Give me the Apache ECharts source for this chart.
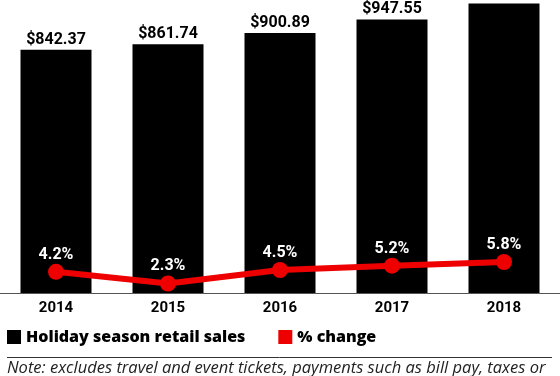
<!DOCTYPE html>
<html>
<head>
<meta charset="utf-8">
<script src="https://cdn.jsdelivr.net/npm/echarts@6/dist/echarts.min.js"></script>
<style>html,body{margin:0;padding:0;background:#fff}#c{width:560px;height:376px}</style>
</head>
<body>
<div id="c"></div>
<script>
var categories = ['2014', '2015', '2016', '2017', '2018'];
var salesValues = [842.37, 861.74, 900.89, 947.55, 1002.51];
var salesLabels = ['$842.37', '$861.74', '$900.89', '$947.55', ''];
var changeValues = [4.2, 2.3, 4.5, 5.2, 5.8];
var changeLabels = ['4.2%', '2.3%', '4.5%', '5.2%', '5.8%'];
var noteText = 'Note: excludes travel and event tickets, payments such as bill pay, taxes or';

var FONT = 'Roboto, "Liberation Sans", sans-serif';
var WIDE = '"Open Sans", Roboto, sans-serif';
var chart = echarts.init(document.getElementById('c'), null, {renderer: 'canvas'});
chart.setOption({
  animation: false,
  textStyle: {fontFamily: FONT},
  grid: {left: 0, right: 0, top: 0, bottom: 83, containLabel: false},
  legend: {
    left: 7, top: 327, itemWidth: 14, itemHeight: 14, itemGap: 33,
    icon: 'rect', padding: [2, 0, 2, 0],
    textStyle: {fontFamily: WIDE, fontSize: 16, fontWeight: 800, color: '#000'},
    data: [
      {name: 'Holiday season retail sales', itemStyle: {color: '#000'}},
      {name: '% change', itemStyle: {color: '#ee0000'}}
    ]
  },
  xAxis: {
    type: 'category', data: categories,
    axisLine: {show: true, lineStyle: {color: '#555', width: 1}},
    axisTick: {show: false},
    axisLabel: {fontFamily: FONT, fontSize: 15, fontWeight: 'bold', color: '#000', margin: 8}
  },
  yAxis: [
    {type: 'value', min: 0, max: 1015, show: false, splitLine: {show: false}},
    {type: 'value', min: 0.75, max: 48.5, show: false, splitLine: {show: false}}
  ],
  series: [
    {
      name: 'Holiday season retail sales', type: 'bar', yAxisIndex: 0,
      barWidth: 71,
      itemStyle: {color: '#000'},
      data: salesValues,
      label: {
        show: true, position: 'top', distance: 4,
        fontFamily: FONT, fontSize: 16, fontWeight: 'bold', color: '#000', lineHeight: 12,
        formatter: function (p) { return salesLabels[p.dataIndex]; }
      },
      z: 1
    },
    {
      name: '% change', type: 'line', yAxisIndex: 1,
      data: changeValues,
      symbol: 'circle', symbolSize: 16,
      lineStyle: {color: '#ee0000', width: 6},
      itemStyle: {color: '#ee0000'},
      label: {
        show: true, position: 'top', distance: 1,
        fontFamily: FONT, fontSize: 16, fontWeight: 'bold', color: '#fff',
        formatter: function (p) { return changeLabels[p.dataIndex]; }
      },
      z: 3
    }
  ],
  graphic: [
    {type: 'line', shape: {x1: 7, y1: 357.5, x2: 552, y2: 357.5}, style: {stroke: '#333', lineWidth: 1}},
    {type: 'text', left: 7, top: 360, style: {text: noteText, fontFamily: WIDE, fontSize: 16.5, fontStyle: 'italic', fill: '#222'}}
  ]
});
</script>
</body>
</html>
